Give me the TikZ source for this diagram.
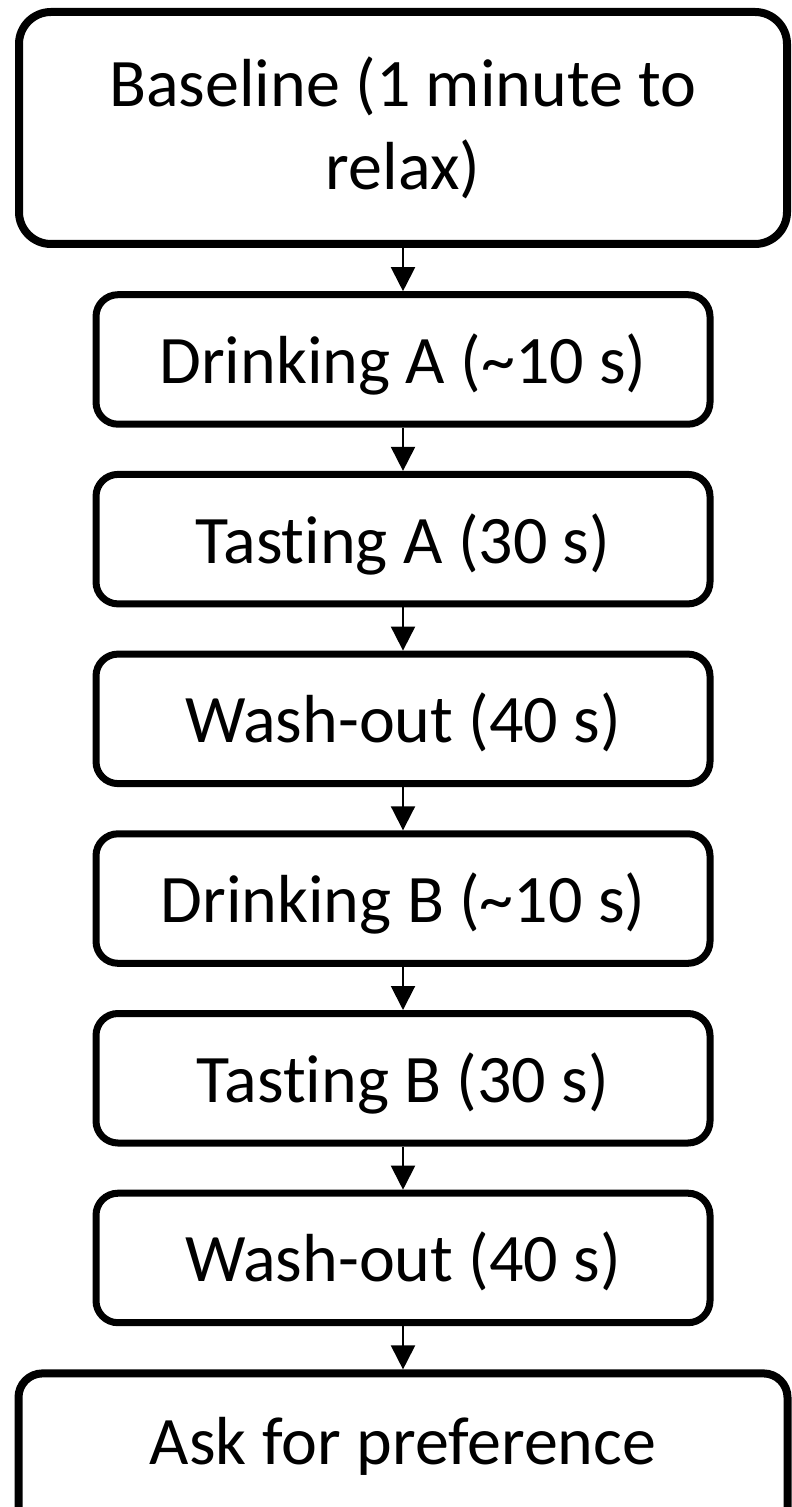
\documentclass[tikz,border=0pt]{standalone}
\usepackage{fontspec}
\setmainfont{Carlito}[Ligatures={NoCommon,NoContextual}]
\usetikzlibrary{arrows.meta}
\usetikzlibrary{positioning}

\begin{document}
\begin{tikzpicture}[
  > = {Triangle[length=12pt,width=12pt]},
  node distance = 21.6pt,
  box/.style = {draw, line width=3.5pt, rounded corners=11pt, inner sep=0pt,
    minimum width=307pt, minimum height=64.75pt, font=\fontsize{34}{41.5}\selectfont},
  stage/.style = {box, text height=29pt, text depth=5pt},
  widestage/.style = {box, line width=4pt, rounded corners=16pt, align=center,
    minimum width=384pt, minimum height=116pt},
  flow/.style = {->, line width=1pt}
  ]
  \useasboundingbox (0,0) rectangle (395.5pt,-753.5pt);

  \node[widestage] (baseline) at (201.5pt,-64pt) {Baseline (1 minute to\\relax)};
  \node[stage, below=of baseline] (drinkA) {Drinking A (\textasciitilde10 s)};
  \node[stage, below=of drinkA] (tasteA) {Tast\kern0pt ing A (30 s)};
  \node[stage, below=of tasteA] (washA) {Wash-out (40 s)};
  \node[stage, below=of washA] (drinkB) {Drinking B (\textasciitilde10 s)};
  \node[stage, below=of drinkB] (tasteB) {Tast\kern0pt ing B (30 s)};
  \node[stage, below=of tasteB] (washB) {Wash-out (40 s)};
  % runs past the lower edge of the page
  \node[stage, below=of washB, line width=4pt, rounded corners=12pt, text depth=18pt,
    minimum width=384.5pt, minimum height=80pt] (ask) {Ask for preference};

  \draw[flow] (baseline) -- (drinkA);
  \draw[flow] (drinkA) -- (tasteA);
  \draw[flow] (tasteA) -- (washA);
  \draw[flow] (washA) -- (drinkB);
  \draw[flow] (drinkB) -- (tasteB);
  \draw[flow] (tasteB) -- (washB);
  \draw[flow] (washB) -- (ask);

\end{tikzpicture}
\end{document}
